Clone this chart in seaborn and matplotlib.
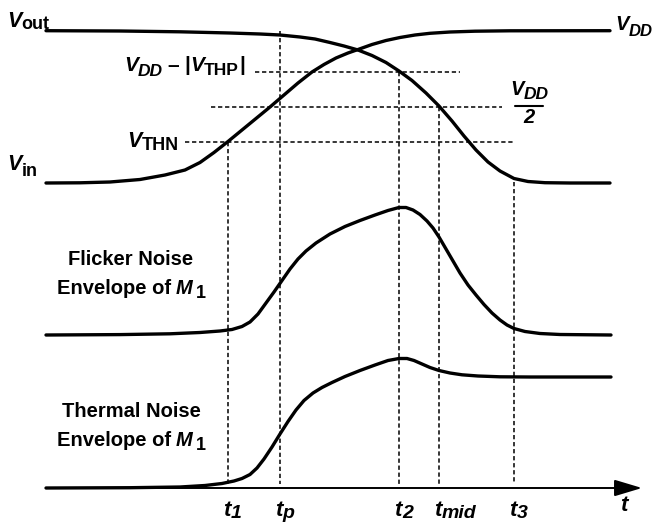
import matplotlib
matplotlib.use("Agg")
import matplotlib.pyplot as plt
import seaborn as sns

sns.set_theme(style="white")
plt.rcParams["font.family"] = ["Liberation Sans", "DejaVu Sans"]

# ---- waveforms (time in drawing units, level in drawing units, downward) ----
vin_t = [46, 80, 110, 140, 165, 185, 200, 214, 228, 242, 256, 270, 284, 298, 312, 324, 336,
         348, 358, 372, 386, 400, 415, 430, 450, 475, 510, 610]
vin_v = [183, 182.8, 182, 179.5, 175, 170, 162.5, 152.5, 141.5, 130, 118.5, 107, 95, 83, 72,
         64.5, 58, 53, 49.5, 44.5, 40.5, 37.5, 35, 33.3, 32, 31.2, 30.8, 30.7]

vout_t = [46, 120, 180, 230, 260, 280, 300, 315, 330, 344, 358, 372, 386, 399, 412, 426, 439,
          452, 464, 476, 488, 500, 514, 528, 545, 570, 610]
vout_v = [30.7, 31, 31.8, 33, 34, 35, 37, 39, 42.5, 46, 50, 55.5, 62.5, 71, 80.5, 93, 106,
          121, 136, 150, 162, 171, 178.5, 181.5, 182.7, 183, 183]

flicker_t = [46, 120, 170, 200, 220, 232, 242, 250, 258, 266, 274, 282, 290, 298, 306, 316,
             330, 345, 360, 375, 388, 399, 406, 413, 420, 427, 433, 439, 446, 453, 460, 468,
             476, 484, 492, 500, 507, 514, 525, 540, 560, 611]
flicker_v = [335, 334.6, 333.8, 332.5, 331, 329.5, 326.5, 322, 314, 303, 292, 280.5, 269, 259,
             251, 243, 234, 226.5, 220.5, 215, 210.5, 207.5, 207.5, 210, 214.5, 221, 228, 237,
             249, 261, 273, 285, 295, 304.5, 313, 320, 325, 328.5, 331.5, 333.5, 334.5, 335]

thermal_t = [46, 130, 180, 205, 222, 234, 242, 250, 257, 264, 272, 280, 288, 296, 304, 313,
             322, 332, 345, 360, 375, 388, 399, 407, 414, 422, 430, 439, 450, 462, 478, 500,
             530, 611]
thermal_v = [488, 487.7, 487, 485.5, 483.5, 481, 478.5, 474.5, 468, 459, 447, 434, 421.5, 410,
             400.5, 393, 387.5, 382.5, 376.5, 370.5, 365, 360.5, 358.5, 358.5, 360.5, 364,
             367.5, 370.5, 373, 374.8, 376, 376.8, 377, 377]

# ---- time markers and threshold levels ----
marker_main = ["t", "t", "t", "t", "t"]
marker_subs = ["1", "p", "2", "mid", "3"]
marker_times = [228, 280, 399, 439, 514]
marker_tops = [142, 30.7, 72, 107, 182]

level_values = [72, 107, 142]          # VDD-|VTHP|, VDD/2, VTHN
level_starts = [255, 211, 185]
level_ends = [460, 502, 515]

axis_start, axis_end, axis_level = 46, 642, 488

fig = plt.figure(figsize=(6.56, 5.23), dpi=100)
ax = fig.add_axes([0, 0, 1, 1])
ax.set_xlim(0, 656)
ax.set_ylim(523, 0)
ax.axis("off")
renderer = fig.canvas.get_renderer()


def chain(x, y, parts, ha="left"):
    """Draw a row of text pieces (text, size, italic, drop, gap) on one baseline."""
    texts, advances = [], []
    for s, size, italic, drop, gap in parts:
        t = ax.text(0, y + drop, s, fontsize=size, fontweight="bold",
                    fontstyle="italic" if italic else "normal",
                    ha="left", va="baseline", color="black")
        w = t.get_window_extent(renderer).width
        texts.append(t)
        advances.append(w + gap)
    total = sum(advances) - parts[-1][4]
    if ha == "center":
        x0 = x - total / 2
    elif ha == "right":
        x0 = x - total
    else:
        x0 = x
    for t, a in zip(texts, advances):
        t.set_x(x0)
        x0 += a


dash = (0, (2.8, 1.8))
ax.vlines(marker_times, marker_tops, [484] * len(marker_times), colors="black",
          linewidth=1.1, linestyles=dash, zorder=1)
ax.hlines(level_values, level_starts, level_ends, colors="black",
          linewidth=1.1, linestyles=dash, zorder=1)

# time axis with arrow
ax.annotate("", xy=(axis_end, axis_level), xytext=(axis_start, axis_level),
            arrowprops=dict(arrowstyle="-|>,head_length=1.0,head_width=0.3",
                            mutation_scale=17, color="black", lw=1.4,
                            shrinkA=0, shrinkB=0), zorder=2)

for t, v in [(vin_t, vin_v), (vout_t, vout_v), (flicker_t, flicker_v), (thermal_t, thermal_v)]:
    sns.lineplot(x=t, y=v, ax=ax, color="black", linewidth=2.4, sort=False,
                 estimator=None, zorder=3)

# marker labels under the time axis
for m, s, t in zip(marker_main, marker_subs, marker_times):
    chain(t - 5, 516, [(m, 16, True, 0, 0.5), (s, 14, True, 2, 0)])
chain(620, 511, [("t", 16, True, 0, 0)])

# signal labels
VS, SS = 15.5, 13
chain(7, 27, [("V", VS, True, 0, 0), ("out", SS, False, 2, 0)])
chain(7, 170, [("V", VS, True, 0, 0), ("in", SS, False, 6, 0)])
chain(653, 30, [("V", 14.5, True, 0, 0), ("DD", 12, True, 6, 0)], ha="right")
chain(124, 71, [("V", 15, True, 0, 0), ("DD", 12.5, True, 5, 5),
                ("\u2013", 15, False, 0, 5), ("|", 15, False, 0, 0),
                ("V", 15, True, 0, 0), ("THP", 12.5, False, 4, 0),
                ("|", 15, False, 0, 0)])
chain(127, 147, [("V", VS, True, 0, 0), ("THN", SS, False, 3, 0)])

# VDD/2 fraction
chain(529, 95, [("V", 14.5, True, 0, 0), ("DD", 12.5, True, 4, 0)], ha="center")
ax.plot([515, 543], [105.5, 105.5], color="black", lw=1.5)
chain(529, 123, [("2", 14.5, True, 0, 0)], ha="center")

# envelope labels
chain(131, 265, [("Flicker Noise", 14.5, False, 0, 0)], ha="center")
chain(131, 294, [("Envelope of", 14.5, False, 0, 5), ("M", 14.5, True, 0, 3),
                 ("1", 13, False, 4, 0)], ha="center")
chain(131, 417, [("Thermal Noise", 14.5, False, 0, 0)], ha="center")
chain(131, 446, [("Envelope of", 14.5, False, 0, 5), ("M", 14.5, True, 0, 3),
                 ("1", 13, False, 4, 0)], ha="center")

fig.savefig("out.png", dpi=100, facecolor="white")
